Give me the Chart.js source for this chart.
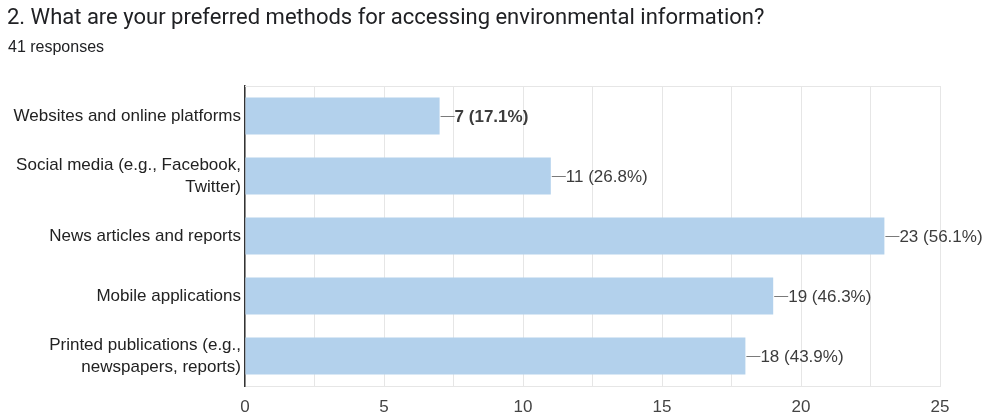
<!DOCTYPE html>
<html>
<head>
<meta charset="utf-8">
<script src="https://cdn.jsdelivr.net/npm/chart.js@4/dist/chart.umd.min.js"></script>
<style>
  html, body { margin: 0; padding: 0; background: #fff; }
  #wrap { position: relative; width: 989px; height: 416px; }
  #title { position: absolute; left: 7px; top: 4px; font: 22px Roboto, Arial, sans-serif; color: #202124; white-space: nowrap; }
  #sub { position: absolute; left: 8px; top: 38px; font: 16px "Liberation Sans", Arial, sans-serif; color: #202124; }
  canvas { position: absolute; left: 0; top: 0; }
</style>
</head>
<body>
<div id="wrap">
  <canvas id="c" width="989" height="416"></canvas>
  <div id="title">2. What are your preferred methods for accessing environmental information?</div>
  <div id="sub">41 responses</div>
</div>
<script>
const categories = [
  ['Websites and online platforms'],
  ['Social media (e.g., Facebook,', 'Twitter)'],
  ['News articles and reports'],
  ['Mobile applications'],
  ['Printed publications (e.g.,', 'newspapers, reports)']
];
const counts = [7, 11, 23, 19, 18];
const percents = ['17.1%', '26.8%', '56.1%', '46.3%', '43.9%'];
const xTicks = [0, 5, 10, 15, 20, 25];

const FONT = '"Liberation Sans", Arial, sans-serif';

// value labels with a short leader line at the end of each bar
const valueLabels = {
  id: 'valueLabels',
  afterDatasetsDraw(chart) {
    const ctx = chart.ctx;
    const meta = chart.getDatasetMeta(0);
    ctx.save();
    meta.data.forEach((bar, i) => {
      const x = bar.x, y = Math.round(bar.y);
      ctx.strokeStyle = '#7a7a7a';
      ctx.lineWidth = 1;
      ctx.beginPath();
      ctx.moveTo(x + 1, y + 0.5);
      ctx.lineTo(x + 15, y + 0.5);
      ctx.stroke();
      ctx.fillStyle = '#3c3c3c';
      ctx.font = (i === 0 ? 'bold ' : '') + '17px ' + FONT;
      ctx.textBaseline = 'middle';
      ctx.textAlign = 'left';
      ctx.fillText(counts[i] + ' (' + percents[i] + ')', x + 15, y + 1);
    });
    ctx.restore();
  }
};

// thin frame line along the top of the plot
const topBorder = {
  id: 'topBorder',
  beforeDatasetsDraw(chart) {
    const { ctx, chartArea } = chart;
    ctx.save();
    ctx.strokeStyle = '#e6e6e6';
    ctx.lineWidth = 1;
    ctx.beginPath();
    ctx.moveTo(chartArea.left, chartArea.top + 0.5);
    ctx.lineTo(chartArea.right, chartArea.top + 0.5);
    ctx.stroke();
    ctx.restore();
  }
};

new Chart(document.getElementById('c'), {
  type: 'bar',
  data: {
    labels: categories,
    datasets: [{
      data: counts,
      backgroundColor: '#b3d1ec',
      borderWidth: 0,
      categoryPercentage: 0.62,
      barPercentage: 1
    }]
  },
  options: {
    indexAxis: 'y',
    responsive: false,
    animation: false,
    layout: { padding: { top: 86, right: 49, left: 0, bottom: 0 } },
    plugins: { legend: { display: false }, tooltip: { enabled: false }, title: { display: false } },
    scales: {
      x: {
        min: 0, max: 25,
        afterBuildTicks(scale) {
          const t = [];
          for (let v = 0; v <= 25; v += 2.5) t.push({ value: v });
          scale.ticks = t;
        },
        afterFit(scale) { scale.height = 30; },
        ticks: {
          autoSkip: false,
          maxRotation: 0,
          padding: 11,
          color: '#444',
          font: { family: FONT, size: 17 },
          callback: (v) => (xTicks.includes(v) ? String(v) : '')
        },
        grid: { color: '#e6e6e6', drawTicks: false, lineWidth: 1 },
        border: { display: true, color: '#e6e6e6' }
      },
      y: {
        afterFit(scale) { scale.width = 245; },
        ticks: {
          color: '#222',
          padding: 4,
          font: { family: FONT, size: 17, lineHeight: 1.3 }
        },
        grid: { display: false, drawTicks: false },
        border: { display: true, color: '#333', width: 1.5 }
      }
    }
  },
  plugins: [valueLabels, topBorder]
});
</script>
</body>
</html>
